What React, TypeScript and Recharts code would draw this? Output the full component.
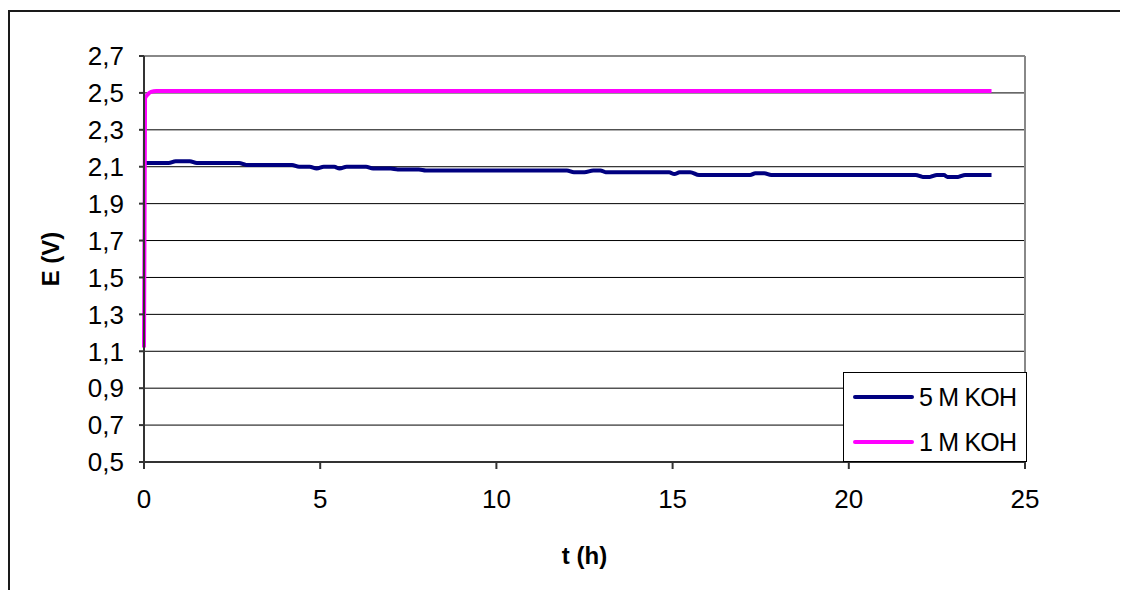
import React from "react";
import {
  CartesianGrid,
  Legend,
  Line,
  LineChart,
  ReferenceLine,
  XAxis,
  YAxis,
} from "recharts";

// t (h) / E (V) readings, 5 M KOH
const t5M = [
  0, 0.7, 0.9, 1.3, 1.5, 2.7, 2.9, 4.2, 4.4, 4.7, 4.9, 5.1, 5.4, 5.55, 5.75,
  6.3, 6.5, 7.0, 7.2, 7.8, 8.0, 12.0, 12.2, 12.5, 12.75, 12.95, 13.1, 14.9,
  15.05, 15.2, 15.5, 15.75, 17.2, 17.35, 17.6, 17.8, 21.9, 22.1, 22.3, 22.5,
  22.7, 22.8, 23.1, 23.3, 24.05,
];
const e5M = [
  2.12, 2.12, 2.13, 2.13, 2.12, 2.12, 2.11, 2.11, 2.1, 2.1, 2.09, 2.1, 2.1,
  2.09, 2.1, 2.1, 2.09, 2.09, 2.085, 2.085, 2.08, 2.08, 2.07, 2.07, 2.08, 2.08,
  2.07, 2.07, 2.06, 2.07, 2.07, 2.055, 2.055, 2.065, 2.065, 2.055, 2.055, 2.045,
  2.045, 2.055, 2.055, 2.045, 2.045, 2.055, 2.055,
];

// 1 M KOH
const t1M = [0, 0.03, 0.1, 0.2, 0.35, 24.05];
const e1M = [1.12, 2.47, 2.49, 2.505, 2.51, 2.51];

const xTicks = [0, 5, 10, 15, 20, 25];
const yTicks = [0.5, 0.7, 0.9, 1.1, 1.3, 1.5, 1.7, 1.9, 2.1, 2.3, 2.5, 2.7];
const legendOrder = ["5 M KOH", "1 M KOH"];

const data5M = t5M.map((t, i) => ({ t, e: e5M[i] }));
const data1M = t1M.map((t, i) => ({ t, e: e1M[i] }));

const FONT = '"Liberation Sans", Arial, sans-serif';
const fmtY = (v: number) => v.toFixed(1).replace(".", ",");

const renderLegend = (props: any) => {
  const items = [...(props.payload || [])].sort(
    (a: any, b: any) => legendOrder.indexOf(a.value) - legendOrder.indexOf(b.value)
  );
  return (
    <div
      style={{
        width: 182,
        height: 88,
        border: "1px solid #000",
        background: "#fff",
        fontFamily: FONT,
        fontSize: 25,
        color: "#000",
      }}
    >
      {items.map((it: any) => (
        <div
          key={it.value}
          style={{ display: "flex", alignItems: "center", height: 42, marginTop: 3 }}
        >
          <div
            style={{
              width: 61,
              height: 4,
              background: it.color,
              marginLeft: 9,
              marginRight: 5,
              borderRadius: 2,
            }}
          />
          <span style={{ whiteSpace: "nowrap", letterSpacing: -0.8 }}>{it.value}</span>
        </div>
      ))}
    </div>
  );
};

const yTitle = (props: any) => {
  const vb = props.viewBox;
  const x = vb.x + 40;
  const y = vb.y + vb.height / 2;
  return (
    <text
      x={x}
      y={y}
      transform={`rotate(-90, ${x}, ${y})`}
      textAnchor="middle"
      dominantBaseline="central"
      fontFamily={FONT}
      fontWeight="bold"
      fontSize={24}
      fill="#000"
    >
      E (V)
    </text>
  );
};

export default function App() {
  return (
    <>
      <style>{"html, body { overflow: hidden; }"}</style>
      <div
        style={{
          position: "relative",
          top: 2,
          width: 1130,
          height: 590,
          borderTop: "2px solid #1a1a1a",
          borderLeft: "2px solid #1a1a1a",
        }}
      >
        <LineChart
          width={1110}
          height={568}
          margin={{ top: 44, right: 95, bottom: 8, left: 0 }}
        >
          <CartesianGrid horizontal vertical={false} stroke="#000" strokeWidth={1} />
          <XAxis
            dataKey="t"
            type="number"
            domain={[0, 25]}
            ticks={xTicks}
            allowDuplicatedCategory={false}
            height={110}
            stroke="#333"
            strokeWidth={2}
            tickSize={7}
            tickMargin={21}
            tick={{ fill: "#000", fontSize: 26, fontFamily: FONT }}
            label={{
              value: "t (h)",
              position: "insideBottom",
              offset: 8,
              style: { fontFamily: FONT, fontWeight: "bold", fontSize: 24, fill: "#000" },
            }}
          />
          <YAxis
            type="number"
            domain={[0.5, 2.7]}
            ticks={yTicks}
            width={134}
            stroke="#333"
            strokeWidth={2}
            tickSize={5}
            tickMargin={15}
            tickFormatter={fmtY}
            tick={{ fill: "#000", fontSize: 26, fontFamily: FONT }}
            label={{ content: yTitle }}
          />
          <ReferenceLine y={2.7} stroke="#888" strokeWidth={2} />
          <ReferenceLine x={25} stroke="#888" strokeWidth={2} />
          <Line
            data={data5M}
            dataKey="e"
            name="5 M KOH"
            type="monotone"
            stroke="#000080"
            strokeWidth={4}
            dot={false}
            isAnimationActive={false}
          />
          <Line
            data={data1M}
            dataKey="e"
            name="1 M KOH"
            type="monotone"
            stroke="#ff00ff"
            strokeWidth={4}
            dot={false}
            isAnimationActive={false}
          />
          <Legend
            layout="vertical"
            align="center"
            verticalAlign="middle"
            content={renderLegend}
            wrapperStyle={{ left: 833, top: 360, width: 184, height: 90 }}
          />
        </LineChart>
      </div>
    </>
  );
}
